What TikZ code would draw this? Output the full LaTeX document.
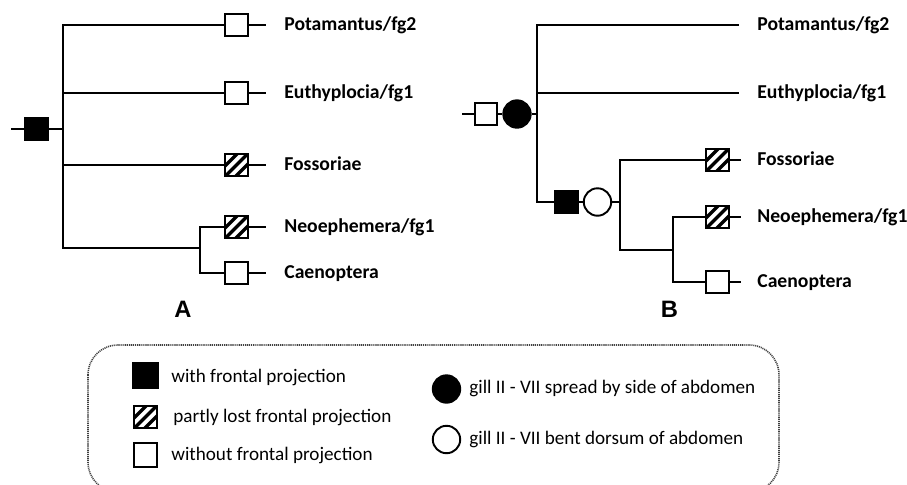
\documentclass[tikz,border=0pt]{standalone}
\usepackage{fontspec}
\setmainfont{Carlito}
\newfontfamily\panelfont{Liberation Sans}
\tikzset{
  tree/.style={line width=1.1pt, line join=miter},
  sq/.style={rectangle, draw, line width=1.1pt, minimum size=13pt, inner sep=0pt},
  fullbox/.style={sq, fill=black},
  openbox/.style={sq, fill=white},
  partbox/.style={sq, fill=white, path picture={
      \foreach \k in {-6,0,6}
        \draw[line width=1.9pt] ([xshift=\k pt]path picture bounding box.south west)
          -- ([xshift=\k pt]path picture bounding box.north east);
    }},
  gill/.style={circle, draw, line width=1.1pt, minimum size=15.6pt, inner sep=0pt},
  fulldot/.style={gill, fill=black},
  opendot/.style={gill, fill=white},
  taxon/.style={anchor=base west, yshift=-2.9pt, inner sep=0pt,
    font=\fontsize{11.2}{13}\selectfont\bfseries},
  key/.style={anchor=west, inner sep=0pt, font=\fontsize{10.9}{13}\selectfont},
  panel/.style={anchor=base, inner sep=0pt, font=\fontsize{13.5}{16}\selectfont\panelfont\bfseries}
}
\begin{document}
\begin{tikzpicture}[x=0.02cm, y=-0.02cm]
  \useasboundingbox (0,0) rectangle (907,484);
  \clip (0,0) rectangle (907,484);

  % tree A
  \coordinate (rA) at (11,129);
  \node (fA) [fullbox] at (36.5,129) {};
  \coordinate (jA) at (63,129);
  \coordinate (kA) at (200,248);
  \node (sA1) [openbox] at (236.5,25) {};
  \node (sA2) [openbox] at (236.5,93) {};
  \node (sA3) [partbox] at (236.5,165) {};
  \node (sA4) [partbox] at (236.5,227) {};
  \node (sA5) [openbox] at (236.5,273) {};
  \coordinate (eA1) at (266,25);
  \coordinate (eA2) at (266,93);
  \coordinate (eA3) at (266,165);
  \coordinate (eA4) at (266,227);
  \coordinate (eA5) at (266,273);
  \node (tA1) [taxon] at (284,25) {Potamantus/fg2};
  \node (tA2) [taxon] at (284,93) {Euthyplocia/fg1};
  \node (tA3) [taxon] at (284,165) {Fossoriae};
  \node (tA4) [taxon] at (284,227) {Neoephemera/fg1};
  \node (tA5) [taxon] at (284,273) {Caenoptera};
  \node (pA) [panel] at (183,317) {A};

  \draw[tree] (rA) -- (fA) -- (jA);
  \draw[tree] (jA) |- (sA1) -- (eA1);
  \draw[tree] (jA) |- (sA2) -- (eA2);
  \draw[tree] (jA) |- (sA3) -- (eA3);
  \draw[tree] (jA) |- (kA);
  \draw[tree] (kA) |- (sA4) -- (eA4);
  \draw[tree] (kA) |- (sA5) -- (eA5);

  % tree B
  \coordinate (rB) at (462,114);
  \node (sB0) [openbox] at (486,114) {};
  \node (cB0) [fulldot] at (517,114) {};
  \coordinate (jB) at (537,114);
  \node (fB) [fullbox] at (566.5,202) {};
  \node (cB1) [opendot] at (597.5,202) {};
  \coordinate (jB2) at (620,202);
  \coordinate (jB3) at (673,250);
  \node (sB3) [partbox] at (717.5,160) {};
  \node (sB4) [partbox] at (717.5,217) {};
  \node (sB5) [openbox] at (717.5,282) {};
  \coordinate (eB1) at (739,25);
  \coordinate (eB2) at (739,93);
  \coordinate (eB3) at (741,160);
  \coordinate (eB4) at (741,217);
  \coordinate (eB5) at (741,282);
  \node (tB1) [taxon] at (757,25) {Potamantus/fg2};
  \node (tB2) [taxon] at (757,93) {Euthyplocia/fg1};
  \node (tB3) [taxon] at (757,160) {Fossoriae};
  \node (tB4) [taxon] at (757,217) {Neoephemera/fg1};
  \node (tB5) [taxon] at (757,282) {Caenoptera};
  \node (pB) [panel] at (669.5,317.5) {B};

  \draw[tree] (rB) -- (sB0) -- (cB0) -- (jB);
  \draw[tree] (jB) |- (eB1);
  \draw[tree] (jB) |- (eB2);
  \draw[tree] (jB) |- (fB) -- (cB1) -- (jB2);
  \draw[tree] (jB2) |- (sB3) -- (eB3);
  \draw[tree] (jB2) |- (jB3);
  \draw[tree] (jB3) |- (sB4) -- (eB4);
  \draw[tree] (jB3) |- (sB5) -- (eB5);

  % legend
  \draw[line width=0.9pt, black!75, dash pattern=on 0.6pt off 0.5pt, rounded corners=17pt]
    (88,345) rectangle (779,492);
  \node (kf) [fullbox, minimum size=14pt] at (145.5,375.5) {};
  \node (kp) [partbox, minimum size=13pt] at (145.5,417) {};
  \node (ko) [openbox, minimum size=13.5pt] at (145.5,455) {};
  \node (kc) [fulldot] at (446.5,389) {};
  \node (kd) [opendot] at (446.5,439.5) {};
  \node (lf) [key] at (171,377) {with frontal projection};
  \node (lp) [key] at (173,417) {partly lost frontal projection};
  \node (lo) [key] at (171,455) {without frontal projection};
  \node (lc) [key] at (469,388) {gill II - VII spread by side of abdomen};
  \node (ld) [key] at (469,439) {gill II - VII bent dorsum of abdomen};
\end{tikzpicture}
\end{document}
